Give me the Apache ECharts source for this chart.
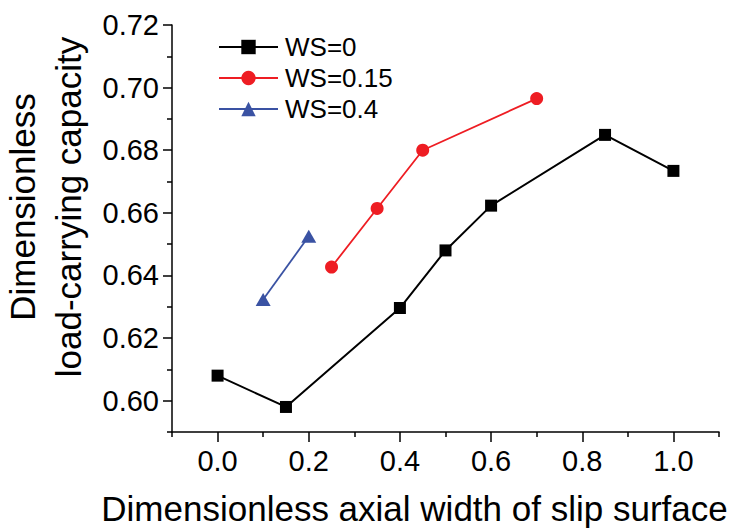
<!DOCTYPE html>
<html>
<head>
<meta charset="utf-8">
<script src="https://cdn.jsdelivr.net/npm/echarts@6/dist/echarts.min.js"></script>
<style>
html,body{margin:0;padding:0;background:#fff;}
#chart{width:729px;height:529px;}
</style>
</head>
<body>
<div id="chart"></div>
<script>
// Data
const xWS0   = [0, 0.15, 0.4, 0.5, 0.6, 0.85, 1.0];
const yWS0   = [0.608, 0.598, 0.6296, 0.648, 0.6623, 0.6849, 0.6734];
const xWS015 = [0.25, 0.35, 0.45, 0.7];
const yWS015 = [0.6427, 0.6614, 0.680, 0.6965];
const xWS04  = [0.1, 0.2];
const yWS04  = [0.6323, 0.6525];

const seriesNames = ['WS=0', 'WS=0.15', 'WS=0.4'];
const xMajorTicks = [0, 0.2, 0.4, 0.6, 0.8, 1.0];
const xMinorTicks = [-0.1, 0.1, 0.3, 0.5, 0.7, 0.9, 1.1];
const yMajorTicks = [0.60, 0.62, 0.64, 0.66, 0.68, 0.70, 0.72];
const yMinorTicks = [0.59, 0.61, 0.63, 0.65, 0.67, 0.69, 0.71];

const xTitle = 'Dimensionless axial width of slip surface';
const yTitle = 'Dimensionless\nload-carrying capacity';

function pairs(xs, ys) { return xs.map((x, i) => [x, ys[i]]); }

const FONT = 'Liberation Sans, Arial, Helvetica, sans-serif';
const chart = echarts.init(document.getElementById('chart'), null, {renderer: 'svg'});

const axisLineStyle = {color: '#000', width: 1.5};

chart.setOption({
  backgroundColor: '#fff',
  animation: false,
  grid: {left: 172, right: 10, top: 25, bottom: 97, containLabel: false, outerBoundsMode: 'none'},
  legend: {
    orient: 'vertical',
    left: 213,
    top: 29,
    itemWidth: 59,
    itemHeight: 18,
    itemGap: 5,
    data: seriesNames,
    textStyle: {fontFamily: FONT, fontSize: 26, color: '#000', padding: [0, 0, 0, 2]}
  },
  xAxis: [
    {
      type: 'value', min: -0.1, max: 1.1, position: 'bottom',
      axisLine: {show: true, onZero: false, lineStyle: axisLineStyle},
      axisTick: {show: true, inside: false, length: 10, customValues: xMajorTicks, lineStyle: axisLineStyle},
      axisLabel: {show: true, margin: 14, customValues: xMajorTicks, formatter: v => v.toFixed(1),
                  fontFamily: FONT, fontSize: 29, color: '#000'},
      splitLine: {show: false},
      name: xTitle, nameLocation: 'middle', nameGap: 59,
      nameTextStyle: {fontFamily: FONT, fontSize: 35, color: '#000', padding: [0, 62, 0, 0]}
    },
    {
      type: 'value', min: -0.1, max: 1.1, position: 'bottom',
      axisLine: {show: false, onZero: false},
      axisTick: {show: true, inside: false, length: 5, customValues: xMinorTicks, lineStyle: axisLineStyle},
      axisLabel: {show: false},
      splitLine: {show: false}
    }
  ],
  yAxis: [
    {
      type: 'value', min: 0.59, max: 0.72, position: 'left',
      axisLine: {show: true, onZero: false, lineStyle: axisLineStyle},
      axisTick: {show: true, inside: false, length: 9, customValues: yMajorTicks, lineStyle: axisLineStyle},
      axisLabel: {show: true, margin: 13, customValues: yMajorTicks, formatter: v => v.toFixed(2),
                  fontFamily: FONT, fontSize: 29, color: '#000'},
      splitLine: {show: false},
      name: yTitle, nameLocation: 'middle', nameGap: 80, nameRotate: 90,
      nameTextStyle: {fontFamily: FONT, fontSize: 35, color: '#000', lineHeight: 46, padding: [0, 0, 0, 43]}
    },
    {
      type: 'value', min: 0.59, max: 0.72, position: 'left',
      axisLine: {show: false, onZero: false},
      axisTick: {show: true, inside: false, length: 5, customValues: yMinorTicks, lineStyle: axisLineStyle},
      axisLabel: {show: false},
      splitLine: {show: false}
    }
  ],
  series: [
    {
      name: seriesNames[0], type: 'line', xAxisIndex: 0, yAxisIndex: 0,
      data: pairs(xWS0, yWS0),
      symbol: 'rect', symbolSize: 12,
      lineStyle: {color: '#000', width: 2},
      itemStyle: {color: '#000'}
    },
    {
      name: seriesNames[1], type: 'line', xAxisIndex: 0, yAxisIndex: 0,
      data: pairs(xWS015, yWS015),
      symbol: 'circle', symbolSize: 13,
      lineStyle: {color: '#ee1d23', width: 1.8},
      itemStyle: {color: '#ee1d23'}
    },
    {
      name: seriesNames[2], type: 'line', xAxisIndex: 0, yAxisIndex: 0,
      data: pairs(xWS04, yWS04),
      symbol: 'triangle', symbolSize: [15, 13],
      lineStyle: {color: '#3a52a3', width: 1.8},
      itemStyle: {color: '#3a52a3'}
    }
  ]
});
</script>
</body>
</html>
